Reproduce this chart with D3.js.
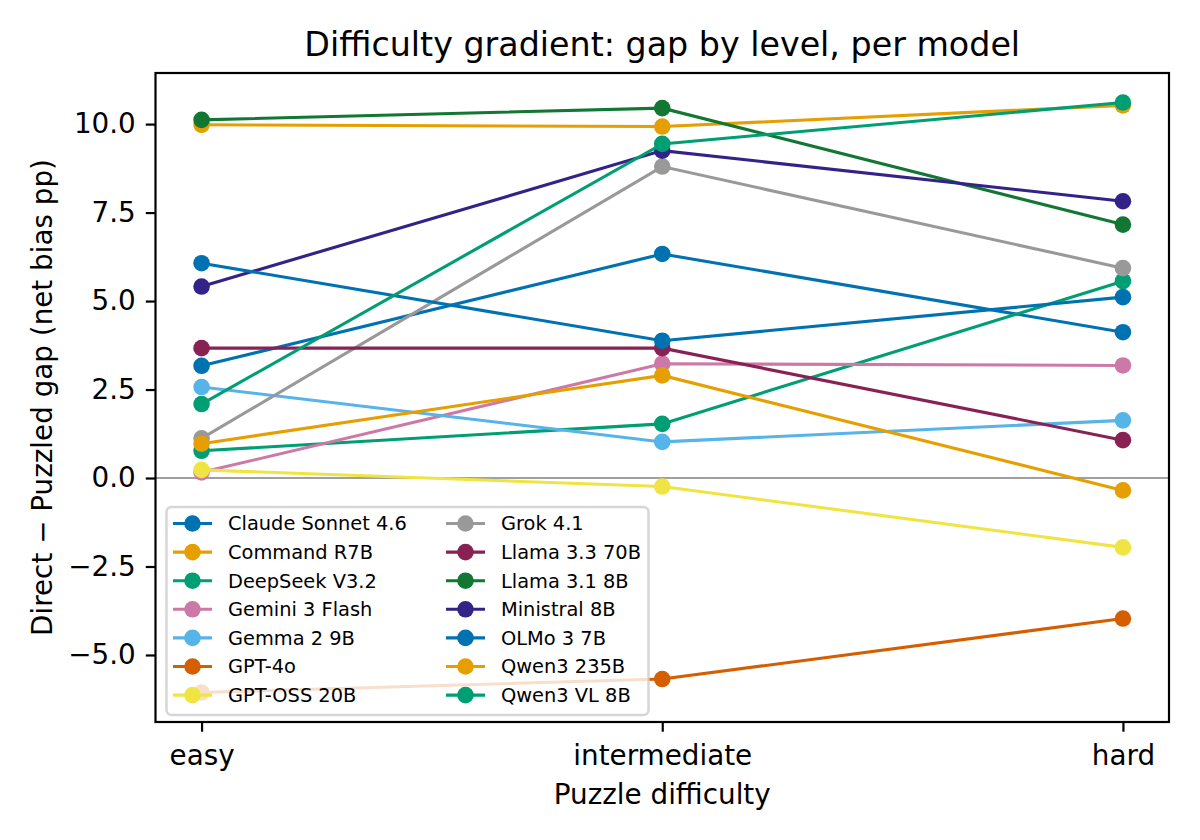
<!DOCTYPE html>
<html>
<head>
<meta charset="utf-8">
<script src="https://cdn.jsdelivr.net/npm/d3@7"></script>
<style>
  body { margin: 0; background: #fff; }
  svg text { font-family: "DejaVu Sans", sans-serif; fill: #000; }
</style>
</head>
<body>
<svg id="chart" width="1200" height="840"></svg>
<script>
// Difficulty levels on the x axis
const levels = ['easy', 'intermediate', 'hard'];

const models = ['Claude Sonnet 4.6', 'Command R7B', 'DeepSeek V3.2', 'Gemini 3 Flash', 'Gemma 2 9B',
  'GPT-4o', 'GPT-OSS 20B', 'Grok 4.1', 'Llama 3.3 70B', 'Llama 3.1 8B', 'Ministral 8B',
  'OLMo 3 7B', 'Qwen3 235B', 'Qwen3 VL 8B'];

const colors = ['#0072B2', '#E69F00', '#009E73', '#CC79A7', '#56B4E9', '#D55E00', '#F0E442',
  '#999999', '#882255', '#117733', '#332288', '#0072B2', '#E69F00', '#009E73'];

// Direct - Puzzled gap (net bias pp), one value per model
const gapEasy = [3.17, 9.98, 0.77, 0.16, 2.57, -6.06, 0.23, 1.12, 3.67, 10.12, 5.41, 6.07, 0.97, 2.09];
const gapIntermediate = [6.33, 9.93, 1.53, 3.23, 1.02, -5.68, -0.24, 8.80, 3.67, 10.45, 9.25, 3.88, 2.90, 9.44];
const gapHard = [4.12, 10.53, 5.56, 3.18, 1.63, -3.97, -1.96, 5.93, 1.07, 7.16, 7.82, 5.11, -0.35, 10.61];

const yTicks = [-5, -2.5, 0, 2.5, 5, 7.5, 10];

function render() {
  const svg = d3.select('#chart');
  const left = 155.5, right = 1169, top = 73, bottom = 722;

  const series = models.map((m, i) => ({
    name: m,
    color: colors[i],
    values: [gapEasy[i], gapIntermediate[i], gapHard[i]]
  }));

  const all = series.flatMap(s => s.values);
  const ext = d3.extent(all);
  const pad = (ext[1] - ext[0]) * 0.05;

  const x = d3.scalePoint().domain(levels).range([left, right]).padding(0.1);
  const y = d3.scaleLinear().domain([ext[0] - pad, ext[1] + pad]).range([bottom, top]);

  // zero reference line
  svg.append('line')
    .attr('x1', left).attr('x2', right)
    .attr('y1', y(0)).attr('y2', y(0))
    .attr('stroke', '#808080').attr('stroke-width', 1.4);

  const line = d3.line().x((d, i) => x(levels[i])).y(d => y(d));

  series.forEach(function(s) {
    const g = svg.append('g');
    g.append('path')
      .attr('d', line(s.values))
      .attr('fill', 'none')
      .attr('stroke', s.color)
      .attr('stroke-width', 3.1);
    g.selectAll('circle')
      .data(s.values)
      .enter().append('circle')
      .attr('cx', (d, i) => x(levels[i]))
      .attr('cy', d => y(d))
      .attr('r', 8.3)
      .attr('fill', s.color);
  });

  // axes
  const xAxis = d3.axisBottom(x).tickSize(9.7).tickPadding(13.6);
  const yAxis = d3.axisLeft(y).tickValues(yTicks).tickSize(9.7).tickPadding(10)
    .tickFormat(d => d3.format('.1f')(d).replace('-', '\u2212'));

  const gx = svg.append('g').attr('transform', `translate(0,${bottom})`).call(xAxis);
  const gy = svg.append('g').attr('transform', `translate(${left},0)`).call(yAxis);
  [gx, gy].forEach(function(g) {
    g.select('.domain').remove();
    g.selectAll('.tick line').attr('stroke', '#000').attr('stroke-width', 2.2);
    g.selectAll('.tick text').style('font-size', '27.8px').attr('fill', '#000');
  });

  // frame
  svg.append('rect')
    .attr('x', left).attr('y', top)
    .attr('width', right - left).attr('height', bottom - top)
    .attr('fill', 'none').attr('stroke', '#000').attr('stroke-width', 2.2);

  // legend
  const lg = svg.append('g');
  lg.append('rect')
    .attr('x', 166.5).attr('y', 507)
    .attr('width', 482).attr('height', 208)
    .attr('rx', 5)
    .attr('fill', 'rgba(255,255,255,0.8)')
    .attr('stroke', 'rgba(204,204,204,0.8)').attr('stroke-width', 2.5);
  const colX = [173, 446];
  const rowY0 = 523.5, rowStep = 28.6;
  series.forEach(function(s, i) {
    const col = Math.floor(i / 7), row = i % 7;
    const lx = colX[col], ly = rowY0 + row * rowStep;
    lg.append('line')
      .attr('x1', lx).attr('x2', lx + 39)
      .attr('y1', ly).attr('y2', ly)
      .attr('stroke', s.color).attr('stroke-width', 3.1);
    lg.append('circle')
      .attr('cx', lx + 19.5).attr('cy', ly).attr('r', 8.3)
      .attr('fill', s.color);
    lg.append('text')
      .attr('x', lx + 55).attr('y', ly)
      .attr('dy', '0.36em')
      .style('font-size', '19.4px')
      .text(s.name);
  });

  // titles
  svg.append('text')
    .attr('x', (left + right) / 2).attr('y', 56)
    .attr('text-anchor', 'middle')
    .style('font-size', '33.3px')
    .text('Difficulty gradient: gap by level, per model');

  svg.append('text')
    .attr('x', (left + right) / 2).attr('y', 804)
    .attr('text-anchor', 'middle')
    .style('font-size', '27.8px')
    .text('Puzzle difficulty');

  svg.append('text')
    .attr('transform', `translate(51.5,${(top + bottom) / 2}) rotate(-90)`)
    .attr('text-anchor', 'middle')
    .style('font-size', '27.8px')
    .text('Direct \u2212 Puzzled gap (net bias pp)');
}

render();
</script>
</body>
</html>
